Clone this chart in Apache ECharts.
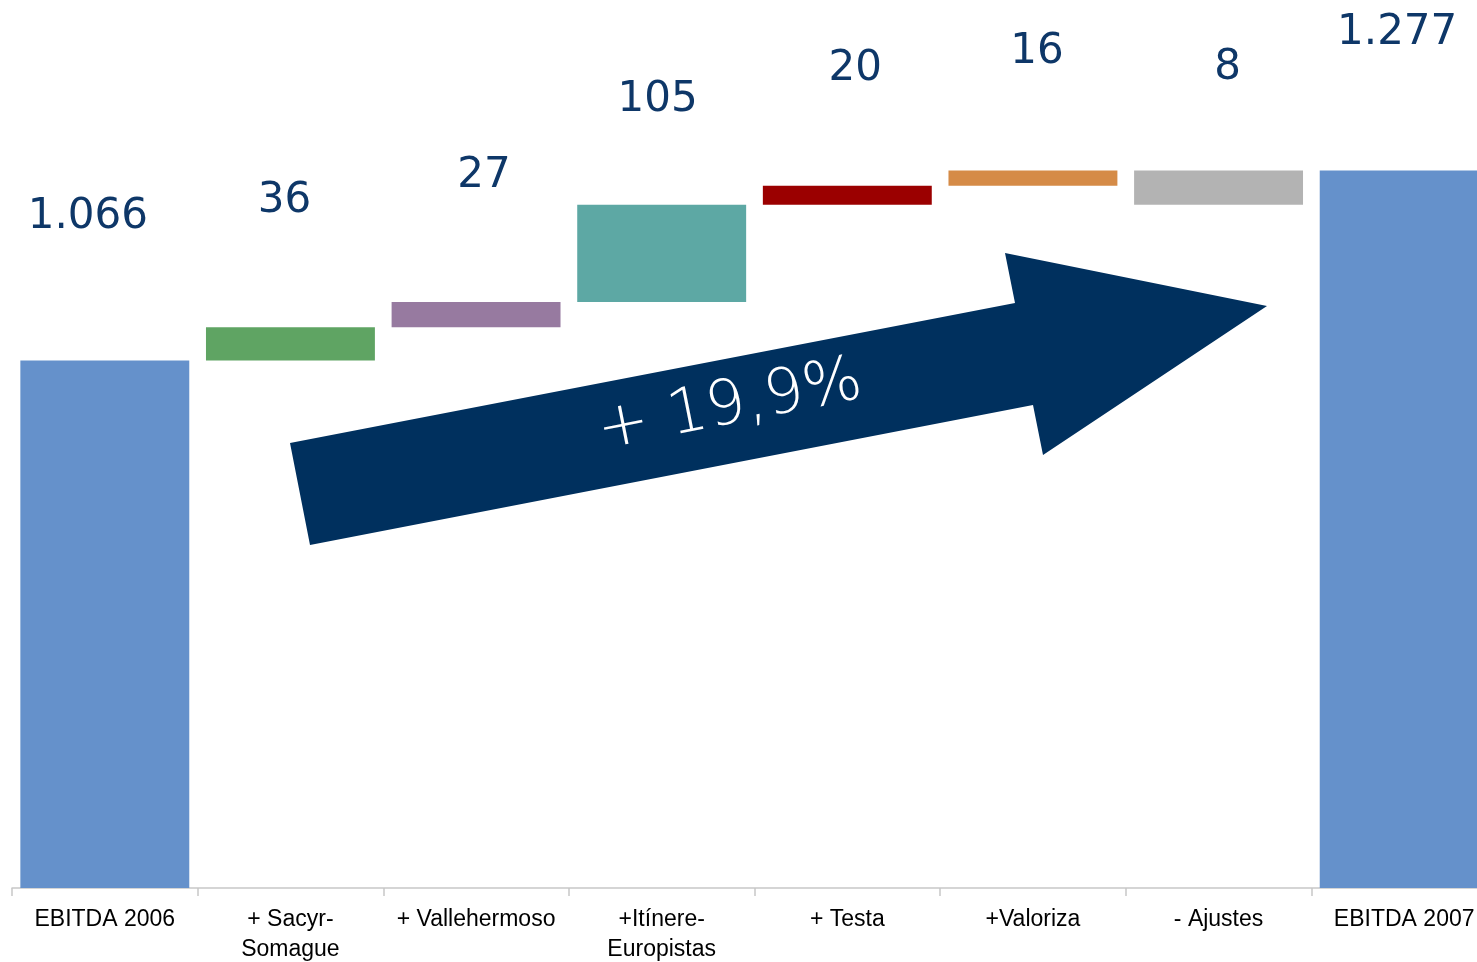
<!DOCTYPE html>
<html>
<head>
<meta charset="utf-8">
<script src="https://cdn.jsdelivr.net/npm/echarts@6/dist/echarts.min.js"></script>
<style>
html,body{margin:0;padding:0;background:#fff;}
#chart{width:1477px;height:962px;}
</style>
</head>
<body>
<div id="chart"></div>
<script>
// Categories (x-axis labels)
const categories = ['EBITDA 2006', '+ Sacyr-\nSomague', '+ Vallehermoso', '+Itínere-\nEuropistas', '+ Testa', '+Valoriza', '- Ajustes', 'EBITDA 2007'];
// Displayed values (labels)
const labelValues = [1066, 36, 27, 105, 20, 16, 8, 1277];
// Bar bottoms and heights (data units)
const barBase = [0, 1066, 1103, 1131, 1239, 1260, 1239, 0];
const barHeight = [1066, 37, 28, 108, 21, 17, 38, 1277];
const barColors = ['#6591CB', '#5FA463', '#977AA0', '#5DA8A4', '#9B0000', '#D58B47', '#B3B3B3', '#6591CB'];
const growthText = '+ 19,9%';

// label placement (style)
const labelDist = [123, 105, 105, 84, 96, 97, 81, 116];
const labelDx = [-17, -6, 8, -4, 8, 4, 9, -7];

function fmt(n) {
  return String(n).replace(/\B(?=(\d{3})+(?!\d))/g, '.');
}

const chart = echarts.init(document.getElementById('chart'));
const visible = barHeight.map((v, i) => ({
  value: v,
  itemStyle: { color: barColors[i] },
  label: {
    show: true,
    position: 'top',
    distance: labelDist[i],
    offset: [labelDx[i], 0],
    formatter: fmt(labelValues[i]),
    fontFamily: 'DejaVu Sans',
    fontSize: 42,
    lineHeight: 42,
    color: '#0E3768'
  }
}));

chart.setOption({
  animation: false,
  grid: { left: 12, right: -20, top: 0, bottom: 74, containLabel: false, outerBoundsMode: 'none' },
  xAxis: {
    type: 'category',
    data: categories,
    axisLine: { lineStyle: { color: '#C8C8C8', width: 1.5 } },
    axisTick: { show: true, length: 8, lineStyle: { color: '#C8C8C8', width: 1.5 } },
    axisLabel: {
      interval: 0,
      color: '#000',
      fontFamily: 'Liberation Sans',
      fontSize: 23,
      lineHeight: 30,
      margin: 17
    }
  },
  yAxis: {
    type: 'value',
    min: 481,
    max: 1466,
    show: false,
    splitLine: { show: false }
  },
  series: [
    {
      type: 'bar',
      stack: 'w',
      data: barBase,
      itemStyle: { color: 'transparent' },
      barCategoryGap: '9%',
      silent: true
    },
    {
      type: 'bar',
      stack: 'w',
      data: visible,
      barCategoryGap: '9%'
    }
  ],
  graphic: [
    {
      type: 'polygon',
      z: 100,
      shape: {
        points: [[290, 443], [1015, 303], [1005, 253], [1267, 306], [1043, 455], [1033, 405], [310, 545]]
      },
      style: { fill: '#00305E' }
    },
    {
      type: 'text',
      z: 101,
      x: 730,
      y: 407,
      rotation: 11.2 * Math.PI / 180,
      style: {
        text: growthText,
        fill: '#fff',
        fontFamily: 'DejaVu Sans',
        fontWeight: 200,
        fontSize: 62,
        align: 'center',
        verticalAlign: 'middle'
      }
    }
  ]
});
</script>
</body>
</html>
